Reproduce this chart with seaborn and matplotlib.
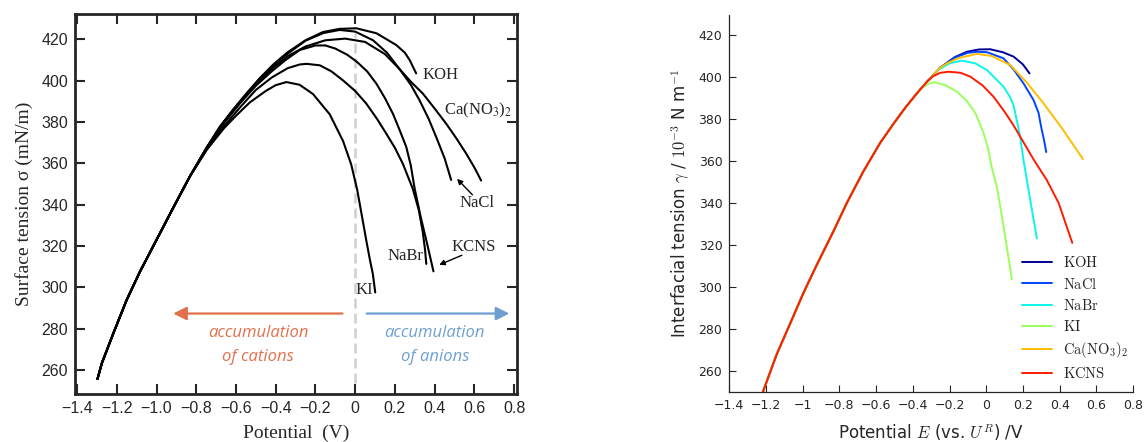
import numpy as np
import pandas as pd
import matplotlib
matplotlib.use("Agg")
import matplotlib.pyplot as plt
from matplotlib.ticker import FuncFormatter, MultipleLocator
import seaborn as sns

sns.set_style("ticks")
plt.rcParams["mathtext.fontset"] = "cm"
plt.rcParams["lines.solid_joinstyle"] = "round"

salts = ["KOH", "NaCl", "NaBr", "KI", "Ca(NO3)2", "KCNS"]

# ---- left panel: measured curves (scanned figure) ----
left_rise_E = [-1.297, -1.275, -1.217, -1.15, -1.083, -1.0, -0.916, -0.832]
left_rise_g = [255.8, 263.4, 277.9, 294.0, 307.7, 323.0, 338.5, 353.7]

koh_E = [-0.748, -0.68, -0.614, -0.55, -0.48, -0.41, -0.34, -0.25, -0.162, -0.08, 0.006, 0.107, 0.207, 0.25, 0.274, 0.307]
koh_g = [367.5, 377.8, 386.0, 393.5, 401.2, 408.0, 413.7, 419.5, 423.5, 425.0, 425.3, 422.9, 417.2, 413.5, 410.0, 403.5]
nacl_E = [-0.748, -0.68, -0.614, -0.55, -0.48, -0.41, -0.34, -0.25, -0.16, -0.078, 0.0, 0.09, 0.16, 0.224, 0.28, 0.324, 0.37, 0.408, 0.45, 0.483]
nacl_g = [367.5, 377.8, 386.0, 393.3, 401.0, 407.5, 413.0, 419.3, 423.0, 424.5, 423.7, 419.5, 413.5, 405.5, 398.0, 390.5, 381.5, 372.7, 362.5, 352.0]
nabr_E = [-0.748, -0.66, -0.58, -0.5, -0.42, -0.34, -0.279, -0.245, -0.178, -0.12, -0.061, 0.0, 0.056, 0.11, 0.157, 0.2, 0.24, 0.29, 0.32, 0.34, 0.352, 0.358]
nabr_g = [366.5, 378.0, 387.0, 395.5, 401.5, 406.0, 407.8, 408.1, 407.4, 404.5, 400.1, 395.0, 388.9, 381.5, 374.3, 367.5, 359.8, 347.7, 337.5, 327.0, 318.0, 311.4]
ki_E = [-0.748, -0.66, -0.6, -0.53, -0.45, -0.4, -0.346, -0.28, -0.212, -0.128, -0.061, -0.02, 0.01, 0.035, 0.056, 0.075, 0.089, 0.101]
ki_g = [366.5, 377.0, 383.0, 389.5, 395.0, 397.8, 399.3, 398.0, 393.5, 383.7, 370.8, 359.5, 347.3, 334.0, 322.7, 313.0, 306.5, 297.6]
ca_E = [-0.748, -0.68, -0.614, -0.55, -0.48, -0.41, -0.34, -0.25, -0.15, -0.05, 0.05, 0.15, 0.224, 0.28, 0.341, 0.4, 0.458, 0.51, 0.559, 0.6, 0.634]
ca_g = [367.5, 377.5, 385.6, 392.8, 400.3, 406.5, 411.8, 416.5, 419.5, 420.3, 418.7, 412.8, 405.5, 399.5, 393.7, 386.5, 379.2, 372.0, 364.7, 358.0, 351.7]
kcns_E = [-0.748, -0.66, -0.58, -0.5, -0.42, -0.35, -0.279, -0.2, -0.15, -0.1, -0.04, 0.006, 0.06, 0.107, 0.15, 0.19, 0.22, 0.257, 0.28, 0.299, 0.33, 0.36, 0.394]
kcns_g = [367.5, 379.5, 389.0, 397.5, 404.5, 410.0, 414.8, 417.0, 417.0, 415.5, 412.5, 409.3, 404.5, 398.5, 391.5, 384.0, 377.0, 368.0, 359.0, 348.0, 334.0, 322.0, 307.8]

# ---- right panel: modelled curves ----
right_rise_E = [-1.218, -1.142, -1.06, -0.997, -0.924, -0.833, -0.76, -0.67, -0.579, -0.505, -0.44, -0.378]
right_rise_g = [249.9, 268.0, 284.4, 297.1, 310.5, 326.5, 340.0, 355.0, 368.5, 377.8, 385.5, 392.2]

r_koh_E = [-0.32, -0.25, -0.17, -0.105, -0.04, 0.022, 0.09, 0.149, 0.2, 0.236]
r_koh_g = [398.0, 404.5, 409.5, 412.0, 413.1, 413.2, 411.8, 409.7, 406.0, 401.7]
r_nacl_E = [-0.32, -0.25, -0.17, -0.1, -0.05, 0.004, 0.094, 0.15, 0.203, 0.258, 0.285, 0.3, 0.315, 0.327]
r_nacl_g = [398.0, 404.5, 409.3, 411.5, 412.0, 411.8, 408.9, 403.5, 397.0, 389.0, 383.0, 376.0, 370.0, 364.3]
r_nabr_E = [-0.32, -0.26, -0.2, -0.132, -0.06, 0.004, 0.094, 0.13, 0.149, 0.165, 0.185, 0.203, 0.24, 0.276]
r_nabr_g = [398.0, 403.5, 406.5, 407.8, 406.5, 403.3, 395.4, 390.5, 386.5, 380.0, 371.6, 360.5, 341.4, 323.2]
r_ki_E = [-0.341, -0.31, -0.278, -0.22, -0.16, -0.11, -0.06, -0.015, 0.01, 0.03, 0.058, 0.095, 0.14]
r_ki_g = [395.4, 397.0, 397.5, 396.0, 393.0, 389.0, 383.0, 373.5, 366.0, 357.0, 347.8, 328.7, 303.7]
r_ca_E = [-0.32, -0.25, -0.214, -0.15, -0.051, 0.03, 0.131, 0.22, 0.312, 0.41, 0.512, 0.527]
r_ca_g = [398.0, 404.5, 406.5, 409.0, 411.0, 410.0, 405.7, 397.5, 387.5, 376.0, 362.9, 361.0]
r_kcns_E = [-0.32, -0.287, -0.25, -0.205, -0.14, -0.087, -0.02, 0.04, 0.1, 0.149, 0.26, 0.33, 0.395, 0.469]
r_kcns_g = [398.0, 400.5, 402.0, 402.5, 402.0, 400.2, 396.0, 390.6, 383.5, 377.0, 360.5, 351.0, 340.0, 321.1]

left_tails = [(koh_E, koh_g), (nacl_E, nacl_g), (nabr_E, nabr_g),
              (ki_E, ki_g), (ca_E, ca_g), (kcns_E, kcns_g)]
right_tails = [(r_koh_E, r_koh_g), (r_nacl_E, r_nacl_g), (r_nabr_E, r_nabr_g),
               (r_ki_E, r_ki_g), (r_ca_E, r_ca_g), (r_kcns_E, r_kcns_g)]
legend_labels = [r"$\mathrm{KOH}$", r"$\mathrm{NaCl}$", r"$\mathrm{NaBr}$",
                 r"$\mathrm{KI}$", r"$\mathrm{Ca(NO_3)_2}$", r"$\mathrm{KCNS}$"]


def build(rise_E, rise_g, tails, names):
    frames = []
    for name, (E, g) in zip(names, tails):
        frames.append(pd.DataFrame({"E": rise_E + E, "g": rise_g + g, "salt": name}))
    return pd.concat(frames, ignore_index=True)


left_df = build(left_rise_E, left_rise_g, left_tails, salts)
right_df = build(right_rise_E, right_rise_g, right_tails, legend_labels)

fig = plt.figure(figsize=(11.44, 4.42), dpi=100)
ax1 = fig.add_axes([0.0656, 0.1086, 0.3864, 0.8597])
ax2 = fig.add_axes([0.6375, 0.1124, 0.3529, 0.8537])

# ---------------- left ----------------
serif = ["Liberation Serif", "DejaVu Serif"]
sns.lineplot(data=left_df, x="E", y="g", hue="salt", palette=["black"] * 6,
             sort=False, estimator=None, legend=False, linewidth=1.5, ax=ax1)
ax1.axvline(0, ymin=0.03, ymax=0.95, color="#cfcfcf", lw=1.8, ls=(0, (4, 2)), zorder=0)
ax1.set_xlim(-1.41, 0.815)
ax1.set_ylim(248.5, 432.2)
ax1.xaxis.set_major_locator(MultipleLocator(0.2))
ax1.yaxis.set_major_locator(MultipleLocator(20))
ax1.xaxis.set_major_formatter(FuncFormatter(
    lambda v, p: "0" if abs(v) < 1e-9 else f"{v:.1f}".replace("-", "\u2212")))
ax1.tick_params(direction="in", length=7, width=1.5, top=True, right=True,
                labelsize=11.5, pad=5)
for lab in ax1.get_xticklabels() + ax1.get_yticklabels():
    lab.set_fontfamily(["Liberation Sans", "DejaVu Sans"])
for sp in ax1.spines.values():
    sp.set_linewidth(2)
ax1.set_xlabel("Potential  (V)", fontfamily=serif, fontsize=14, labelpad=6)
ax1.set_ylabel("Surface tension \u03c3 (mN/m)", fontfamily=serif, fontsize=14, labelpad=6)

lab_kw = dict(fontfamily=serif, fontsize=12, ha="center", va="center")
ax1.text(0.43, 402.6, "KOH", **lab_kw)
ax1.text(0.618, 385.7, "Ca(NO$_3$)$_2$", math_fontfamily="stix", **lab_kw)
ax1.text(0.615, 340.9, "NaCl", **lab_kw)
ax1.text(0.597, 319.6, "KCNS", **lab_kw)
ax1.text(0.253, 315.1, "NaBr", **lab_kw)
ax1.text(0.045, 298.7, "KI", **lab_kw)
small = dict(arrowstyle="-|>", color="black", lw=1.0, mutation_scale=8)
ax1.annotate("", xy=(0.503, 353.5), xytext=(0.60, 343.8), arrowprops=small)
ax1.annotate("", xy=(0.41, 310.4), xytext=(0.55, 316.1), arrowprops=small)

orange, blue = "#e2704c", "#6f9fd0"
ax1.annotate("", xy=(-0.93, 287.4), xytext=(-0.05, 287.4),
             arrowprops=dict(arrowstyle="-|>", color=orange, lw=1.6, mutation_scale=20))
ax1.annotate("", xy=(0.79, 287.4), xytext=(0.044, 287.4),
             arrowprops=dict(arrowstyle="-|>", color=blue, lw=1.6, mutation_scale=20))
it_kw = dict(fontfamily=["Open Sans", "DejaVu Sans"], style="italic", fontsize=12,
             ha="center", va="center")
ax1.text(-0.489, 278.2, "accumulation", color=orange, **it_kw)
ax1.text(-0.489, 266.4, "of cations", color=orange, **it_kw)
ax1.text(0.401, 278.2, "accumulation", color=blue, **it_kw)
ax1.text(0.401, 266.4, "of anions", color=blue, **it_kw)

# ---------------- right ----------------
colors = [plt.cm.jet(v) for v in np.linspace(0.02, 0.88, 6)]
sns.lineplot(data=right_df, x="E", y="g", hue="salt", hue_order=legend_labels,
             palette=colors, sort=False, estimator=None, linewidth=1.4, ax=ax2)
ax2.set_xlim(-1.4, 0.8)
ax2.set_ylim(250, 429.5)
ax2.xaxis.set_major_locator(MultipleLocator(0.2))
ax2.yaxis.set_major_locator(MultipleLocator(20))
ax2.xaxis.set_major_formatter(FuncFormatter(
    lambda v, p: "0" if abs(v) < 1e-9 else f"{v:g}".replace("-", "\u2212")))
ax2.tick_params(direction="in", length=5, width=0.8, labelsize=9, pad=5)
sns.despine(ax=ax2)
for sp in ax2.spines.values():
    sp.set_linewidth(0.9)
ax2.set_xlabel(r"Potential $E$ (vs. $U^R$) /V", fontsize=12, labelpad=7)
ax2.set_ylabel(r"Interfacial tension $\gamma$ / $10^{-3}$ N m$^{-1}$", fontsize=12, labelpad=5)
leg = ax2.legend(loc="lower right", bbox_to_anchor=(1.02, -0.005), frameon=False,
                 fontsize=10.5, handlelength=2.1, handletextpad=0.7, labelspacing=0.42,
                 title=None)

fig.savefig("out.png", dpi=100)
